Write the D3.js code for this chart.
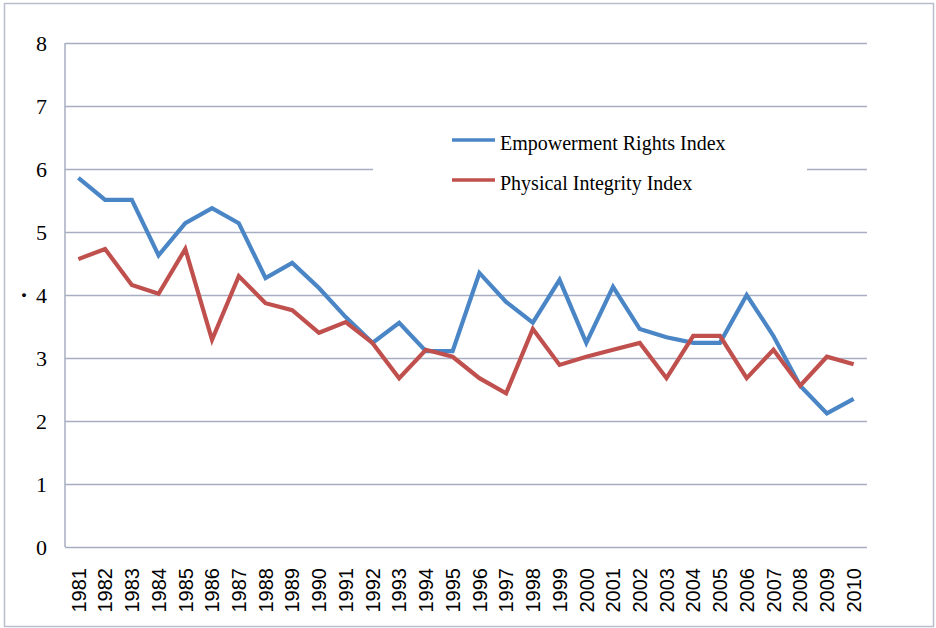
<!DOCTYPE html>
<html>
<head>
<meta charset="utf-8">
<script src="https://cdn.jsdelivr.net/npm/d3@7"></script>
<style>
  body { margin: 0; background: #fff; }
</style>
</head>
<body>
<div class="chart"></div>
<script>
var years = ['1981','1982','1983','1984','1985','1986','1987','1988','1989','1990',
             '1991','1992','1993','1994','1995','1996','1997','1998','1999','2000',
             '2001','2002','2003','2004','2005','2006','2007','2008','2009','2010'];
var empowerment = [5.86, 5.51, 5.51, 4.63, 5.14, 5.38, 5.14, 4.27, 4.51, 4.11,
                   3.65, 3.24, 3.56, 3.11, 3.11, 4.35, 3.89, 3.56, 4.24, 3.24,
                   4.13, 3.46, 3.33, 3.24, 3.24, 4.0, 3.35, 2.56, 2.12, 2.35];
var integrity = [4.57, 4.73, 4.16, 4.02, 4.73, 3.29, 4.3, 3.87, 3.76, 3.4,
                 3.57, 3.24, 2.68, 3.13, 3.02, 2.68, 2.44, 3.46, 2.89, 3.02,
                 3.13, 3.24, 2.68, 3.35, 3.35, 2.68, 3.13, 2.56, 3.02, 2.9];
var yTicks = [0, 1, 2, 3, 4, 5, 6, 7, 8];
var seriesNames = ['Empowerment Rights Index', 'Physical Integrity Index'];
var colors = ['#4A86C6', '#C0504D'];

var svg = d3.select('.chart').append('svg')
            .attr('width', 936)
            .attr('height', 628);

// outer frame
svg.append('rect')
   .attr('x', 4.5).attr('y', 3.5)
   .attr('width', 929).attr('height', 623)
   .attr('fill', '#fff')
   .attr('stroke', '#B9BECC')
   .attr('stroke-width', 1.5);

var plotLeft = 65, plotRight = 867, plotTop = 43, plotBottom = 547;

var x = d3.scaleBand().domain(years).range([plotLeft, plotRight]).padding(0);
var y = d3.scaleLinear().domain([0, 8]).range([plotBottom, plotTop]);

// gridlines + y labels
var yAxis = svg.append('g')
   .attr('transform', 'translate(' + plotLeft + ',0)')
   .call(d3.axisLeft(y).tickValues(yTicks).tickSize(-(plotRight - plotLeft)).tickPadding(18));
yAxis.select('.domain').remove();
yAxis.selectAll('.tick line').attr('stroke', '#A7AEC1').attr('stroke-width', 1.5);
yAxis.selectAll('.tick text')
   .attr('font-family', '"Liberation Serif", "DejaVu Serif", serif')
   .attr('font-size', 22)
   .attr('fill', '#000');

// vertical axis line
svg.append('line')
   .attr('x1', plotLeft).attr('x2', plotLeft)
   .attr('y1', y(8)).attr('y2', y(0))
   .attr('stroke', '#A7AEC1').attr('stroke-width', 1.5);

// stray dot beside the 4
svg.append('text')
   .attr('x', 24).attr('y', y(4))
   .attr('dy', '0.32em')
   .attr('text-anchor', 'middle')
   .attr('font-family', '"Liberation Serif", serif')
   .attr('font-weight', 'bold')
   .attr('font-size', 24)
   .text('·');

// x labels
svg.selectAll('.xlab')
   .data(years)
   .enter().append('text')
     .attr('class', 'xlab')
     .attr('transform', function(d){ return 'translate(' + (x(d) + x.bandwidth() / 2) + ',568) rotate(-90)'; })
     .attr('text-anchor', 'end')
     .attr('dy', '0.36em')
     .attr('font-family', '"Liberation Sans", Arial, sans-serif')
     .attr('font-size', 20)
     .attr('fill', '#000')
     .text(function(d){ return d; });

// legend background covering the gridline
svg.append('rect')
   .attr('x', 373).attr('y', 116)
   .attr('width', 434).attr('height', 100)
   .attr('fill', '#fff');

var line = d3.line()
   .x(function(d, i){ return x(years[i]) + x.bandwidth() / 2; })
   .y(function(d){ return y(d); });

[empowerment, integrity].forEach(function(s, k) {
  svg.append('path')
     .datum(s)
     .attr('d', line)
     .attr('fill', 'none')
     .attr('stroke', colors[k])
     .attr('stroke-width', 4.2)
     .attr('stroke-linejoin', 'miter');
});

// legend
var legend = svg.selectAll('.leg')
   .data(seriesNames)
   .enter().append('g')
     .attr('class', 'leg')
     .attr('transform', function(d, i){ return 'translate(452,' + (140 + i * 40) + ')'; });
legend.append('line')
   .attr('x1', 0).attr('x2', 43)
   .attr('stroke', function(d, i){ return colors[i]; })
   .attr('stroke-width', 3.5);
legend.append('text')
   .attr('x', 48).attr('y', 10)
   .attr('font-family', '"Liberation Serif", "DejaVu Serif", serif')
   .attr('font-size', 20)
   .attr('fill', '#000')
   .text(function(d){ return d; });
</script>
</body>
</html>
